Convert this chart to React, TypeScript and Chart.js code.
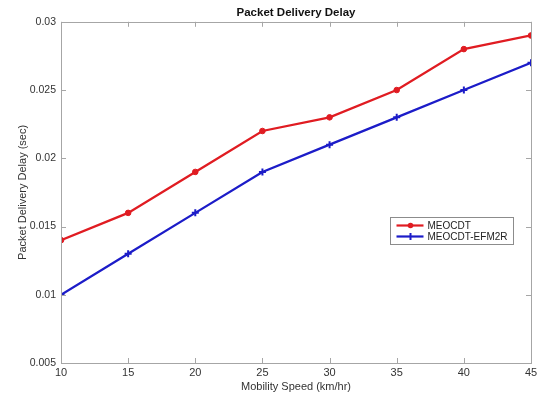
import React, { useEffect, useRef } from "react";
import { Chart, registerables } from "chart.js";

Chart.register(...registerables);

const speeds = [10, 15, 20, 25, 30, 35, 40, 45];
const meocdt = [0.014, 0.016, 0.019, 0.022, 0.023, 0.025, 0.028, 0.029];
const efm2r = [0.01, 0.013, 0.016, 0.019, 0.021, 0.023, 0.025, 0.027];
const seriesNames = ["MEOCDT", "MEOCDT-EFM2R"];
const xTicks = [10, 15, 20, 25, 30, 35, 40, 45];
const yTicks = [0.005, 0.01, 0.015, 0.02, 0.025, 0.03];
const yTickLabels = ["0.005", "0.01", "0.015", "0.02", "0.025", "0.03"];

const RED = "#e01c22";
const BLUE = "#1c1cc8";
const AXIS = "#a6a6a6";
const FONT = "'Liberation Sans', Arial, Helvetica, sans-serif";

const frameAndLegend = {
  id: "frameAndLegend",
  afterDraw(chart: any) {
    const { ctx, chartArea: a, scales } = chart;
    ctx.save();
    ctx.strokeStyle = AXIS;
    ctx.lineWidth = 1;
    ctx.strokeRect(Math.round(a.left) + 0.5, Math.round(a.top) + 0.5, Math.round(a.right - a.left), Math.round(a.bottom - a.top));
    const tl = 5;
    ctx.beginPath();
    xTicks.forEach((v) => {
      const x = Math.round(scales.x.getPixelForValue(v)) + 0.5;
      ctx.moveTo(x, a.bottom);
      ctx.lineTo(x, a.bottom - tl);
      ctx.moveTo(x, a.top);
      ctx.lineTo(x, a.top + tl);
    });
    yTicks.forEach((v) => {
      const y = Math.round(scales.y.getPixelForValue(v)) + 0.5;
      ctx.moveTo(a.left, y);
      ctx.lineTo(a.left + tl, y);
      ctx.moveTo(a.right, y);
      ctx.lineTo(a.right - tl, y);
    });
    ctx.stroke();

    // legend
    const bw = 123;
    const bh = 27;
    const bx = Math.round(a.right - 18 - bw) + 0.5;
    const by = Math.round(a.top + 195) + 0.5;
    ctx.fillStyle = "#ffffff";
    ctx.fillRect(bx, by, bw, bh);
    ctx.strokeStyle = "#8c8c8c";
    ctx.strokeRect(bx, by, bw, bh);
    const colors = [RED, BLUE];
    ctx.font = `10px ${FONT}`;
    ctx.textBaseline = "middle";
    seriesNames.forEach((name, i) => {
      const y = by + 8 + i * 11;
      ctx.strokeStyle = colors[i];
      ctx.lineWidth = 2.2;
      ctx.beginPath();
      ctx.moveTo(bx + 6, y);
      ctx.lineTo(bx + 33, y);
      ctx.stroke();
      const mx = bx + 20;
      if (i === 0) {
        ctx.fillStyle = colors[i];
        ctx.beginPath();
        ctx.arc(mx, y, 2.8, 0, Math.PI * 2);
        ctx.fill();
      } else {
        ctx.lineWidth = 2;
        ctx.beginPath();
        ctx.moveTo(mx, y - 3.5);
        ctx.lineTo(mx, y + 3.5);
        ctx.stroke();
      }
      ctx.fillStyle = "#222222";
      ctx.fillText(name, bx + 37, y + 0.5);
    });
    ctx.restore();
  },
};

export default function App() {
  const ref = useRef<HTMLCanvasElement | null>(null);
  useEffect(() => {
    if (!ref.current) return;
    const chart = new Chart(ref.current, {
      type: "line",
      data: {
        datasets: [
          {
            label: seriesNames[0],
            data: speeds.map((s, i) => ({ x: s, y: meocdt[i] })),
            borderColor: RED,
            backgroundColor: RED,
            borderWidth: 2.3,
            pointStyle: "circle",
            pointRadius: 2.8,
            pointBorderWidth: 1,
            tension: 0,
          },
          {
            label: seriesNames[1],
            data: speeds.map((s, i) => ({ x: s, y: efm2r[i] })),
            borderColor: BLUE,
            backgroundColor: BLUE,
            borderWidth: 2.3,
            pointStyle: "cross",
            pointRadius: 3.5,
            pointBorderWidth: 2,
            tension: 0,
          },
        ],
      },
      options: {
        responsive: false,
        animation: false,
        layout: { padding: { left: 0, right: 4, top: 0, bottom: 0 } },
        plugins: {
          legend: { display: false },
          tooltip: { enabled: false },
          title: {
            display: true,
            text: "Packet Delivery Delay",
            fullSize: false,
            color: "#111111",
            font: { family: FONT, size: 11.5, weight: "bold" },
            padding: { top: 6, bottom: 2 },
          },
        },
        scales: {
          x: {
            type: "linear",
            min: 10,
            max: 45,
            afterBuildTicks: (s: any) => {
              s.ticks = xTicks.map((v) => ({ value: v }));
            },
            afterFit: (s: any) => {
              s.height = 33;
              s.paddingRight = 0;
            },
            grid: { display: false, drawTicks: false },
            border: { display: false },
            ticks: {
              color: "#333333",
              font: { family: FONT, size: 11 },
              padding: 3,
              maxRotation: 0,
              autoSkip: false,
              callback: (v: any) => String(v),
            },
            title: {
              display: true,
              text: "Mobility Speed (km/hr)",
              color: "#333333",
              font: { family: FONT, size: 11 },
              padding: { top: 0, bottom: 2 },
            },
          },
          y: {
            type: "linear",
            min: 0.005,
            max: 0.03,
            afterBuildTicks: (s: any) => {
              s.ticks = yTicks.map((v) => ({ value: v }));
            },
            afterFit: (s: any) => {
              s.width = 61;
            },
            grid: { display: false, drawTicks: false },
            border: { display: false },
            ticks: {
              color: "#333333",
              font: { family: FONT, size: 10.5 },
              padding: 5,
              autoSkip: false,
              callback: (v: any) => {
                const i = yTicks.findIndex((t) => Math.abs(t - v) < 1e-9);
                return i >= 0 ? yTickLabels[i] : "";
              },
            },
            title: {
              display: true,
              text: "Packet Delivery Delay (sec)",
              color: "#333333",
              font: { family: FONT, size: 11 },
              padding: { top: 16, bottom: 0 },
            },
          },
        },
      },
      plugins: [frameAndLegend],
    } as any);
    return () => chart.destroy();
  }, []);
  return (
    <div style={{ position: "absolute", left: 0, top: 0, width: 537, height: 396, background: "#ffffff" }}>
      <canvas ref={ref} width={537} height={396} style={{ display: "block" }} />
    </div>
  );
}
